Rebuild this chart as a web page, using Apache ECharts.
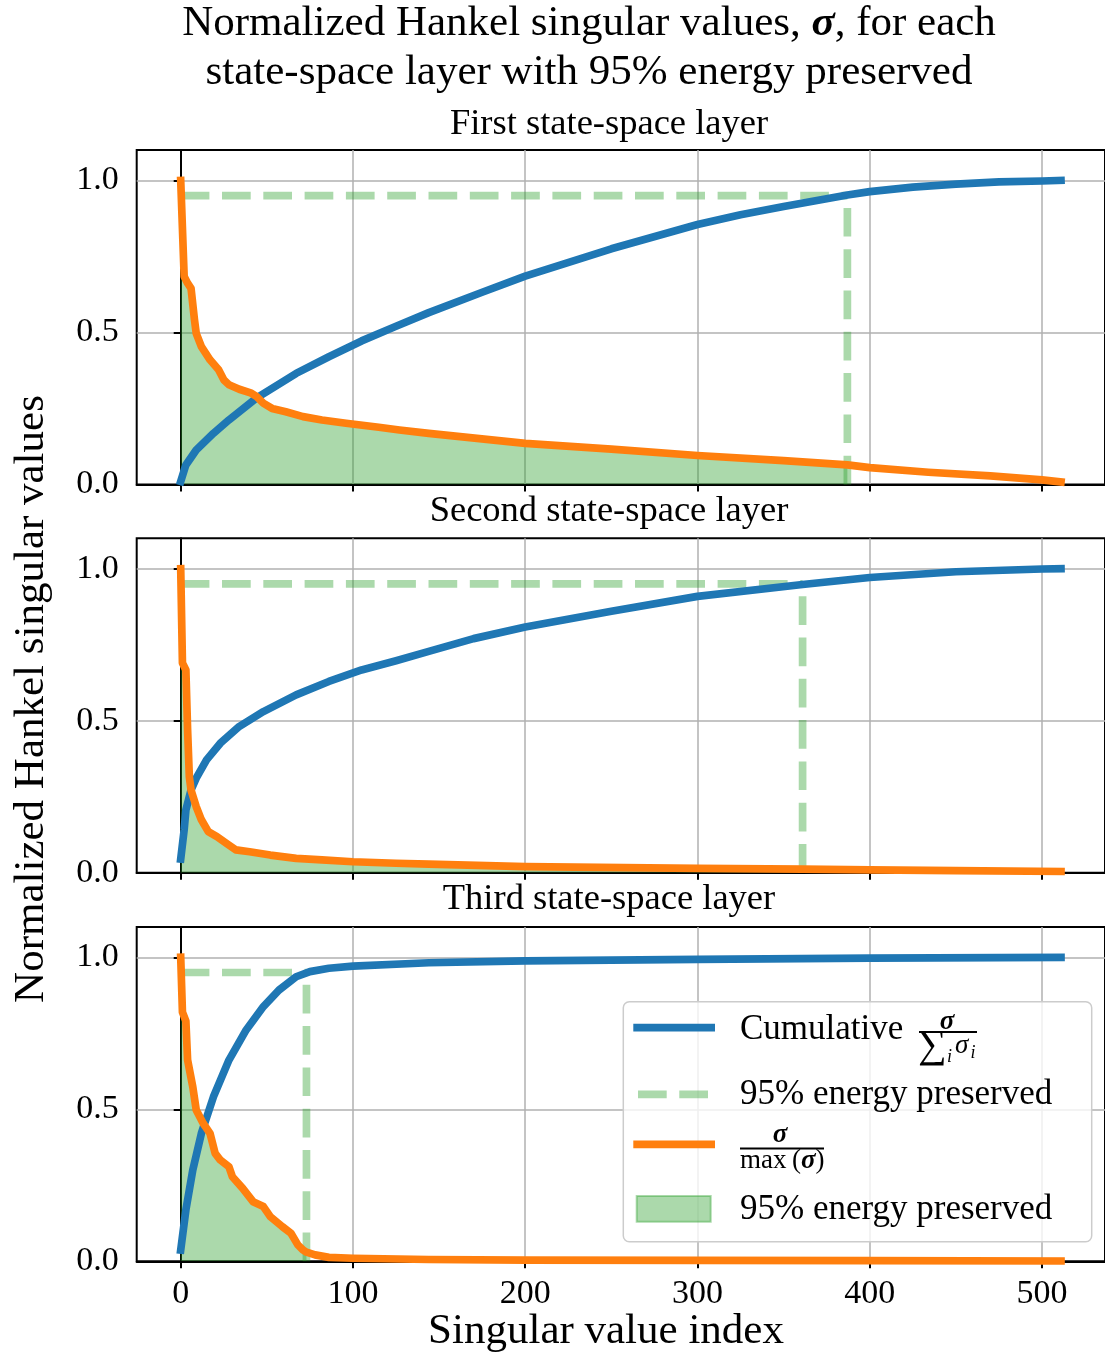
<!DOCTYPE html>
<html>
<head>
<meta charset="utf-8">
<title>Normalized Hankel singular values</title>
<script src="https://cdn.jsdelivr.net/npm/echarts@6/dist/echarts.min.js"></script>
<style>
  html, body { margin: 0; padding: 0; background: #fff; }
  #chart { width: 1105px; height: 1360px; }
</style>
</head>
<body>
<div id="chart"></div>
<script>
// ---- data ----
const xTicks = [0, 100, 200, 300, 400, 500]
const yTicks = [0, 0.5, 1.0]
const layerTitles = ['First state-space layer', 'Second state-space layer', 'Third state-space layer']
const cutoffIndex = [387, 361, 73]
const energyLevel = 0.95

// first layer
const cumIdx1 = [0, 3, 9, 19, 28, 44, 67, 86, 105, 125, 144, 175, 200, 250, 300, 325, 350, 387, 400, 425, 450, 475, 500, 511]
const cumVal1 = [0.01, 0.064, 0.113, 0.168, 0.212, 0.284, 0.365, 0.42, 0.472, 0.52, 0.565, 0.632, 0.685, 0.775, 0.855, 0.887, 0.914, 0.952, 0.963, 0.978, 0.988, 0.995, 0.998, 1.0]
const normIdx1 = [0, 2, 4, 6, 8, 9, 12, 17, 22, 25, 28, 34, 41, 44, 48, 53, 61, 71, 82, 96, 115, 127, 144, 200, 250, 300, 350, 387, 400, 434, 470, 500, 511]
const normVal1 = [1.0, 0.684, 0.662, 0.645, 0.541, 0.497, 0.453, 0.41, 0.377, 0.344, 0.328, 0.313, 0.3, 0.289, 0.267, 0.25, 0.239, 0.223, 0.212, 0.201, 0.188, 0.179, 0.168, 0.135, 0.116, 0.095, 0.078, 0.064, 0.055, 0.04, 0.028, 0.015, 0.008]

// second layer
const cumIdx2 = [0, 2, 3, 6, 9, 15, 23, 34, 48, 67, 86, 105, 125, 144, 170, 200, 250, 300, 361, 400, 450, 500, 511]
const cumVal2 = [0.045, 0.141, 0.206, 0.272, 0.311, 0.371, 0.426, 0.481, 0.53, 0.585, 0.629, 0.667, 0.697, 0.728, 0.77, 0.808, 0.86, 0.909, 0.948, 0.971, 0.99, 0.999, 1.0]
const normIdx2 = [0, 1, 3, 4, 5, 6, 9, 12, 16, 21, 28, 32, 40, 52, 67, 82, 100, 125, 144, 200, 300, 361, 400, 450, 511]
const normVal2 = [1.0, 0.69, 0.667, 0.47, 0.316, 0.272, 0.217, 0.174, 0.135, 0.119, 0.091, 0.075, 0.069, 0.058, 0.047, 0.042, 0.036, 0.031, 0.028, 0.02, 0.014, 0.012, 0.009, 0.007, 0.004]

// third layer
const cumIdx3 = [0, 3, 7, 12, 19, 28, 38, 48, 57, 67, 75, 86, 100, 144, 200, 300, 400, 511]
const cumVal3 = [0.037, 0.169, 0.3, 0.421, 0.541, 0.662, 0.761, 0.838, 0.892, 0.936, 0.953, 0.964, 0.971, 0.982, 0.988, 0.993, 0.997, 1.0]
const normIdx3 = [0, 1, 3, 4, 7, 9, 13, 17, 20, 23, 28, 30, 36, 42, 48, 52, 59, 64, 68, 71, 73, 78, 86, 100, 144, 200, 300, 400, 511]
const normVal3 = [1.0, 0.82, 0.79, 0.662, 0.574, 0.498, 0.454, 0.421, 0.355, 0.333, 0.311, 0.278, 0.24, 0.196, 0.18, 0.147, 0.114, 0.092, 0.054, 0.037, 0.03, 0.021, 0.013, 0.01, 0.006, 0.004, 0.003, 0.002, 0.001]

const cumIdx = [cumIdx1, cumIdx2, cumIdx3]
const cumVal = [cumVal1, cumVal2, cumVal3]
const normIdx = [normIdx1, normIdx2, normIdx3]
const normVal = [normVal1, normVal2, normVal3]

// ---- styling / layout ----
const FONT = 'Liberation Serif'
const BLUE = '#1f77b4'
const ORANGE = '#ff7f0e'
const GREEN_A = 'rgba(44,160,44,0.4)'
const GRID_COLOR = '#b0b0b0'
const LINE_W = 7.7
const DASH = [28.7, 12.6]

const gridLeft = 136.7
const gridWidth = 975
const gridHeight = 334.4
const gridTops = [150, 538.3, 926.9]
const subtitleY = [124, 511.5, 899.5]

function pairs(xs, ys) {
  return xs.map((x, i) => [x, ys[i]])
}

const grids = []
const xAxes = []
const yAxes = []
const series = []

for (let k = 0; k < 3; k++) {
  grids.push({
    left: gridLeft, top: gridTops[k], width: gridWidth, height: gridHeight,
    show: true, borderColor: '#000', borderWidth: 2, backgroundColor: 'transparent'
  })

  xAxes.push({
    gridIndex: k, type: 'value', min: -25.55, max: 536.55,
    axisLine: { show: true, onZero: false, lineStyle: { color: '#000', width: 2 } },
    axisTick: { show: true, length: 7, customValues: xTicks, lineStyle: { color: '#000', width: 2 } },
    axisLabel: {
      show: k === 2, customValues: xTicks, margin: 16,
      color: '#000', fontFamily: FONT, fontSize: 34
    },
    splitLine: { show: true, lineStyle: { color: GRID_COLOR, width: 1.5 } }
  })

  yAxes.push({
    gridIndex: k, type: 'value', min: 0, max: 1.1,
    axisLine: { show: true, lineStyle: { color: '#000', width: 2 } },
    axisTick: { show: true, length: 7, customValues: yTicks, lineStyle: { color: '#000', width: 2 } },
    axisLabel: {
      customValues: yTicks, margin: 18, color: '#000', fontFamily: FONT, fontSize: 34,
      formatter: (v) => v.toFixed(1)
    },
    splitLine: { show: true, lineStyle: { color: GRID_COLOR, width: 1.5 } }
  })

  const cut = cutoffIndex[k]
  const norm = pairs(normIdx[k], normVal[k])

  // shaded area under the normalized curve up to the cutoff
  series.push({
    type: 'line', xAxisIndex: k, yAxisIndex: k, z: 1, silent: true,
    data: norm.filter((p) => p[0] <= cut),
    symbol: 'none', lineStyle: { width: 0 },
    areaStyle: { color: GREEN_A, opacity: 1 }
  })
  // 95% level, horizontal then vertical
  series.push({
    type: 'line', xAxisIndex: k, yAxisIndex: k, z: 2, silent: true,
    data: [[0, energyLevel], [cut, energyLevel]], symbol: 'none',
    lineStyle: { color: GREEN_A, width: LINE_W, type: DASH, cap: 'butt' }
  })
  series.push({
    type: 'line', xAxisIndex: k, yAxisIndex: k, z: 2, silent: true,
    data: [[cut, 0], [cut, energyLevel]], symbol: 'none',
    lineStyle: { color: GREEN_A, width: LINE_W, type: DASH, cap: 'butt' }
  })
  series.push({
    type: 'line', xAxisIndex: k, yAxisIndex: k, z: 3, silent: true,
    data: pairs(cumIdx[k], cumVal[k]), symbol: 'none',
    lineStyle: { color: BLUE, width: LINE_W, cap: 'square', join: 'round' }
  })
  series.push({
    type: 'line', xAxisIndex: k, yAxisIndex: k, z: 4, silent: true,
    data: norm, symbol: 'none',
    lineStyle: { color: ORANGE, width: LINE_W, cap: 'square', join: 'round' }
  })
}

function txt(text, x, y, size, extra) {
  return {
    type: 'text', z: 100, silent: true,
    style: Object.assign({
      text: text, x: x, y: y, fill: '#000', fontFamily: FONT, fontSize: size,
      align: 'left', verticalAlign: 'middle'
    }, extra || {})
  }
}

const sigmaBold = { fontFamily: FONT, fontStyle: 'italic', fontWeight: 'bold' }

const texts = [
  txt('Normalized Hankel singular values, {s|σ}, for each', 589, 24, 43,
    { align: 'center', rich: { s: Object.assign({ fontSize: 43 }, sigmaBold) } }),
  txt('state-space layer with 95% energy preserved', 589, 73, 43, { align: 'center' }),
  txt('Singular value index', 606, 1332, 43, { align: 'center' }),
  Object.assign(txt('Normalized Hankel singular values', 0, 0, 43, { align: 'center' }),
    { x: 32, y: 699, rotation: Math.PI / 2 })
]
layerTitles.forEach((t, k) => texts.push(txt(t, 609, subtitleY[k], 36.5, { align: 'center' })))

// legend box drawn by hand so the math labels can be stacked
const legend = [
  { type: 'rect', z: 90, silent: true,
    shape: { x: 623.3, y: 1001.7, width: 468.4, height: 240, r: 6 },
    style: { fill: 'rgba(255,255,255,0.8)', stroke: '#cccccc', lineWidth: 1.5 } },
  { type: 'line', z: 100, silent: true, shape: { x1: 633.3, y1: 1027.7, x2: 715, y2: 1027.7 },
    style: { stroke: BLUE, lineWidth: LINE_W } },
  { type: 'line', z: 100, silent: true, shape: { x1: 638, y1: 1094.3, x2: 708.5, y2: 1094.3 },
    style: { stroke: GREEN_A, lineWidth: LINE_W, lineDash: DASH } },
  { type: 'line', z: 100, silent: true, shape: { x1: 633.3, y1: 1144.3, x2: 715, y2: 1144.3 },
    style: { stroke: ORANGE, lineWidth: LINE_W } },
  { type: 'rect', z: 100, silent: true, shape: { x: 636.7, y: 1196, width: 74, height: 25.7 },
    style: { fill: GREEN_A, stroke: GREEN_A, lineWidth: 2 } },

  txt('Cumulative', 740, 1030, 35),
  txt('σ', 947, 1022.5, 27, Object.assign({ align: 'center' }, sigmaBold)),
  { type: 'line', z: 100, silent: true, shape: { x1: 919, y1: 1032, x2: 977, y2: 1032 },
    style: { stroke: '#000', lineWidth: 1.8 } },
  txt('∑', 918, 1046, 40),
  txt('i', 947, 1057, 18, { fontStyle: 'italic' }),
  txt('σ', 955, 1046, 27, { fontStyle: 'italic' }),
  txt('i', 970.5, 1053, 18, { fontStyle: 'italic' }),

  txt('95% energy preserved', 740, 1095, 35),

  txt('σ', 780, 1135.5, 27, Object.assign({ align: 'center' }, sigmaBold)),
  { type: 'line', z: 100, silent: true, shape: { x1: 740, y1: 1148.5, x2: 824, y2: 1148.5 },
    style: { stroke: '#000', lineWidth: 1.8 } },
  txt('max\u2009({s|σ})', 740, 1161, 27, { rich: { s: Object.assign({ fontSize: 27 }, sigmaBold) } }),

  txt('95% energy preserved', 740, 1210, 35)
]

const chart = echarts.init(document.getElementById('chart'), null, { renderer: 'canvas' })
chart.setOption({
  animation: false,
  backgroundColor: '#fff',
  grid: grids,
  xAxis: xAxes,
  yAxis: yAxes,
  series: series,
  graphic: { elements: texts.concat(legend) }
})
</script>
</body>
</html>
